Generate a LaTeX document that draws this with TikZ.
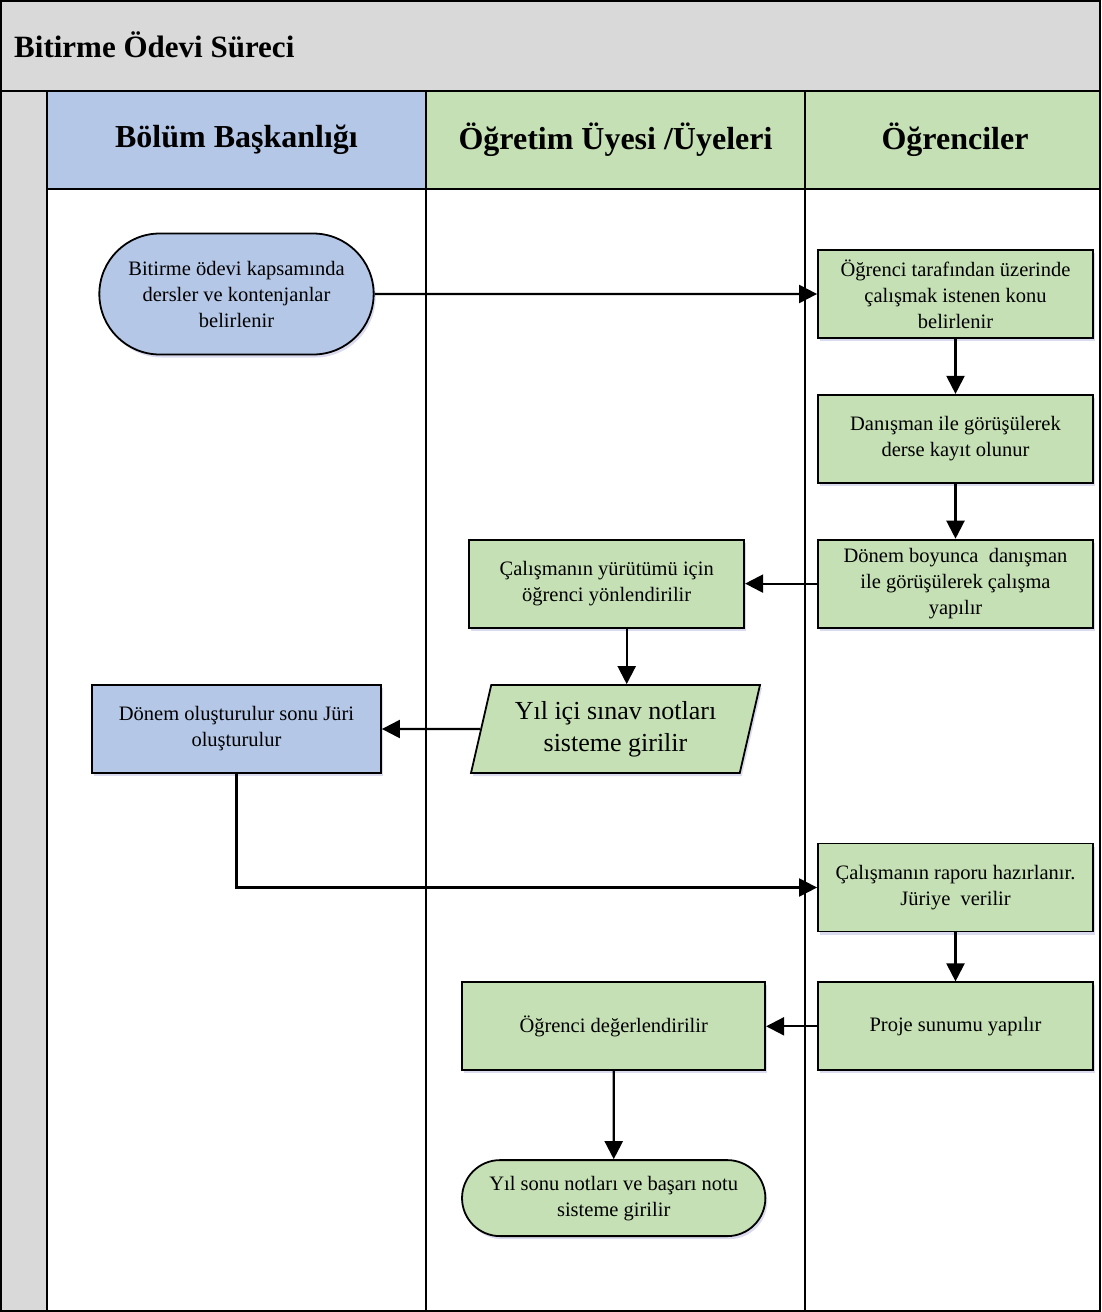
\documentclass[tikz,border=0pt]{standalone}
\usepackage{fontspec}
\setmainfont{Liberation Serif}
\usetikzlibrary{positioning,shapes.geometric,shapes.misc,arrows.meta,shadows}

\definecolor{serit}{RGB}{217,217,217}
\definecolor{mavi}{RGB}{180,199,231}
\definecolor{yesil}{RGB}{197,224,180}

\begin{document}
\begin{tikzpicture}[x=1pt, y=-1pt, line width=1.8pt,
    kutu/.style={draw, line width=1.8pt, rectangle, minimum width=275pt, minimum height=88pt, align=center,
        font=\fontsize{20.5}{26}\selectfont,
        drop shadow={shadow xshift=2pt, shadow yshift=-3pt, fill=blue!40!gray, opacity=0.2}},
    uc/.style={kutu, rounded rectangle},
    veri/.style={kutu, trapezium, trapezium left angle=72, trapezium right angle=108,
        trapezium stretches body, font=\fontsize{26}{32}\selectfont},
    baslik/.style={font=\bfseries\fontsize{32}{38}\selectfont},
    ok/.style={line width=2.2pt, -{Triangle[length=18pt,width=18pt]}}]

    \useasboundingbox (0,0) rectangle (1101,1312);

    % pool background and lanes
    \fill[serit] (0,0) rectangle (1101,91);
    \fill[serit] (0,91) rectangle (47,1312);
    \fill[mavi] (47,91) rectangle (426,189);
    \fill[yesil] (426,91) rectangle (1101,189);
    \draw (1,1) rectangle (1100,1311);
    \draw (0,91) -- (1101,91);
    \draw (47,189) -- (1101,189);
    \foreach \x in {47,426,805}
        \draw (\x,91) -- (\x,1312);

    \node[anchor=west, font=\bfseries\fontsize{31}{36}\selectfont] (surec) at (10,45) {Bitirme Ödevi Süreci};
    \node[baslik] (bolum) at (236.5,140) {Bölüm Başkanlığı};
    \node[baslik] (uye) at (615.5,140) {Öğretim Üyesi /Üyeleri};
    \node[baslik] (ogrenci) at (955,140) {Öğrenciler};

    % steps
    \node[uc, fill=mavi, minimum width=281pt, minimum height=121pt] (kontenjan) at (236.5,294)
        {Bitirme ödevi kapsamında\\ dersler ve kontenjanlar\\ belirlenir};
    \node[kutu, fill=yesil] (konu) at (955.5,294)
        {Öğrenci tarafından üzerinde\\ çalışmak istenen konu\\ belirlenir};
    \node[kutu, fill=yesil, below=55pt of konu] (kayit)
        {Danışman ile görüşülerek\\ derse kayıt olunur};
    \node[kutu, fill=yesil, below=55pt of kayit] (calisma)
        {Dönem boyunca \ danışman\\ ile görüşülerek çalışma\\ yapılır};
    \node[kutu, fill=yesil, left=72pt of calisma] (yurutme)
        {Çalışmanın yürütümü için\\ öğrenci yönlendirilir};
    \node[veri, fill=yesil, minimum width=289pt] (sinav) at (615.5,729)
        {Yıl içi sınav notları\\ sisteme girilir};
    \node[kutu, fill=mavi, minimum width=289pt] (juri) at (236.5,729)
        {Dönem oluşturulur sonu Jüri\\ oluşturulur};
    \node[kutu, fill=yesil] (rapor) at (955.5,887.5)
        {Çalışmanın raporu hazırlanır.\\ Jüriye \ verilir};
    \node[kutu, fill=yesil, below=49pt of rapor] (sunum)
        {Proje sunumu yapılır};
    \node[kutu, fill=yesil, minimum width=303pt, left=51pt of sunum] (degerlendirme)
        {Öğrenci değerlendirilir};
    \node[uc, fill=yesil, minimum width=310pt, minimum height=76pt, below=88pt of degerlendirme] (sonuc)
        {Yıl sonu notları ve başarı notu\\ sisteme girilir};

    % flow
    \draw[ok] (kontenjan) -- (konu);
    \draw[ok] (konu) -- (kayit);
    \draw[ok] (kayit) -- (calisma);
    \draw[ok] (calisma) -- (yurutme);
    \draw[ok] ([xshift=20pt]yurutme.south) -- ([xshift=20pt]yurutme.south |- sinav.north);
    \draw[ok] (sinav.west) -- (juri.east);
    \draw[ok] (juri.south) |- (rapor.west);
    \draw[ok] (rapor) -- (sunum);
    \draw[ok] (sunum) -- (degerlendirme);
    \draw[ok] (degerlendirme) -- (sonuc);
\end{tikzpicture}
\end{document}
